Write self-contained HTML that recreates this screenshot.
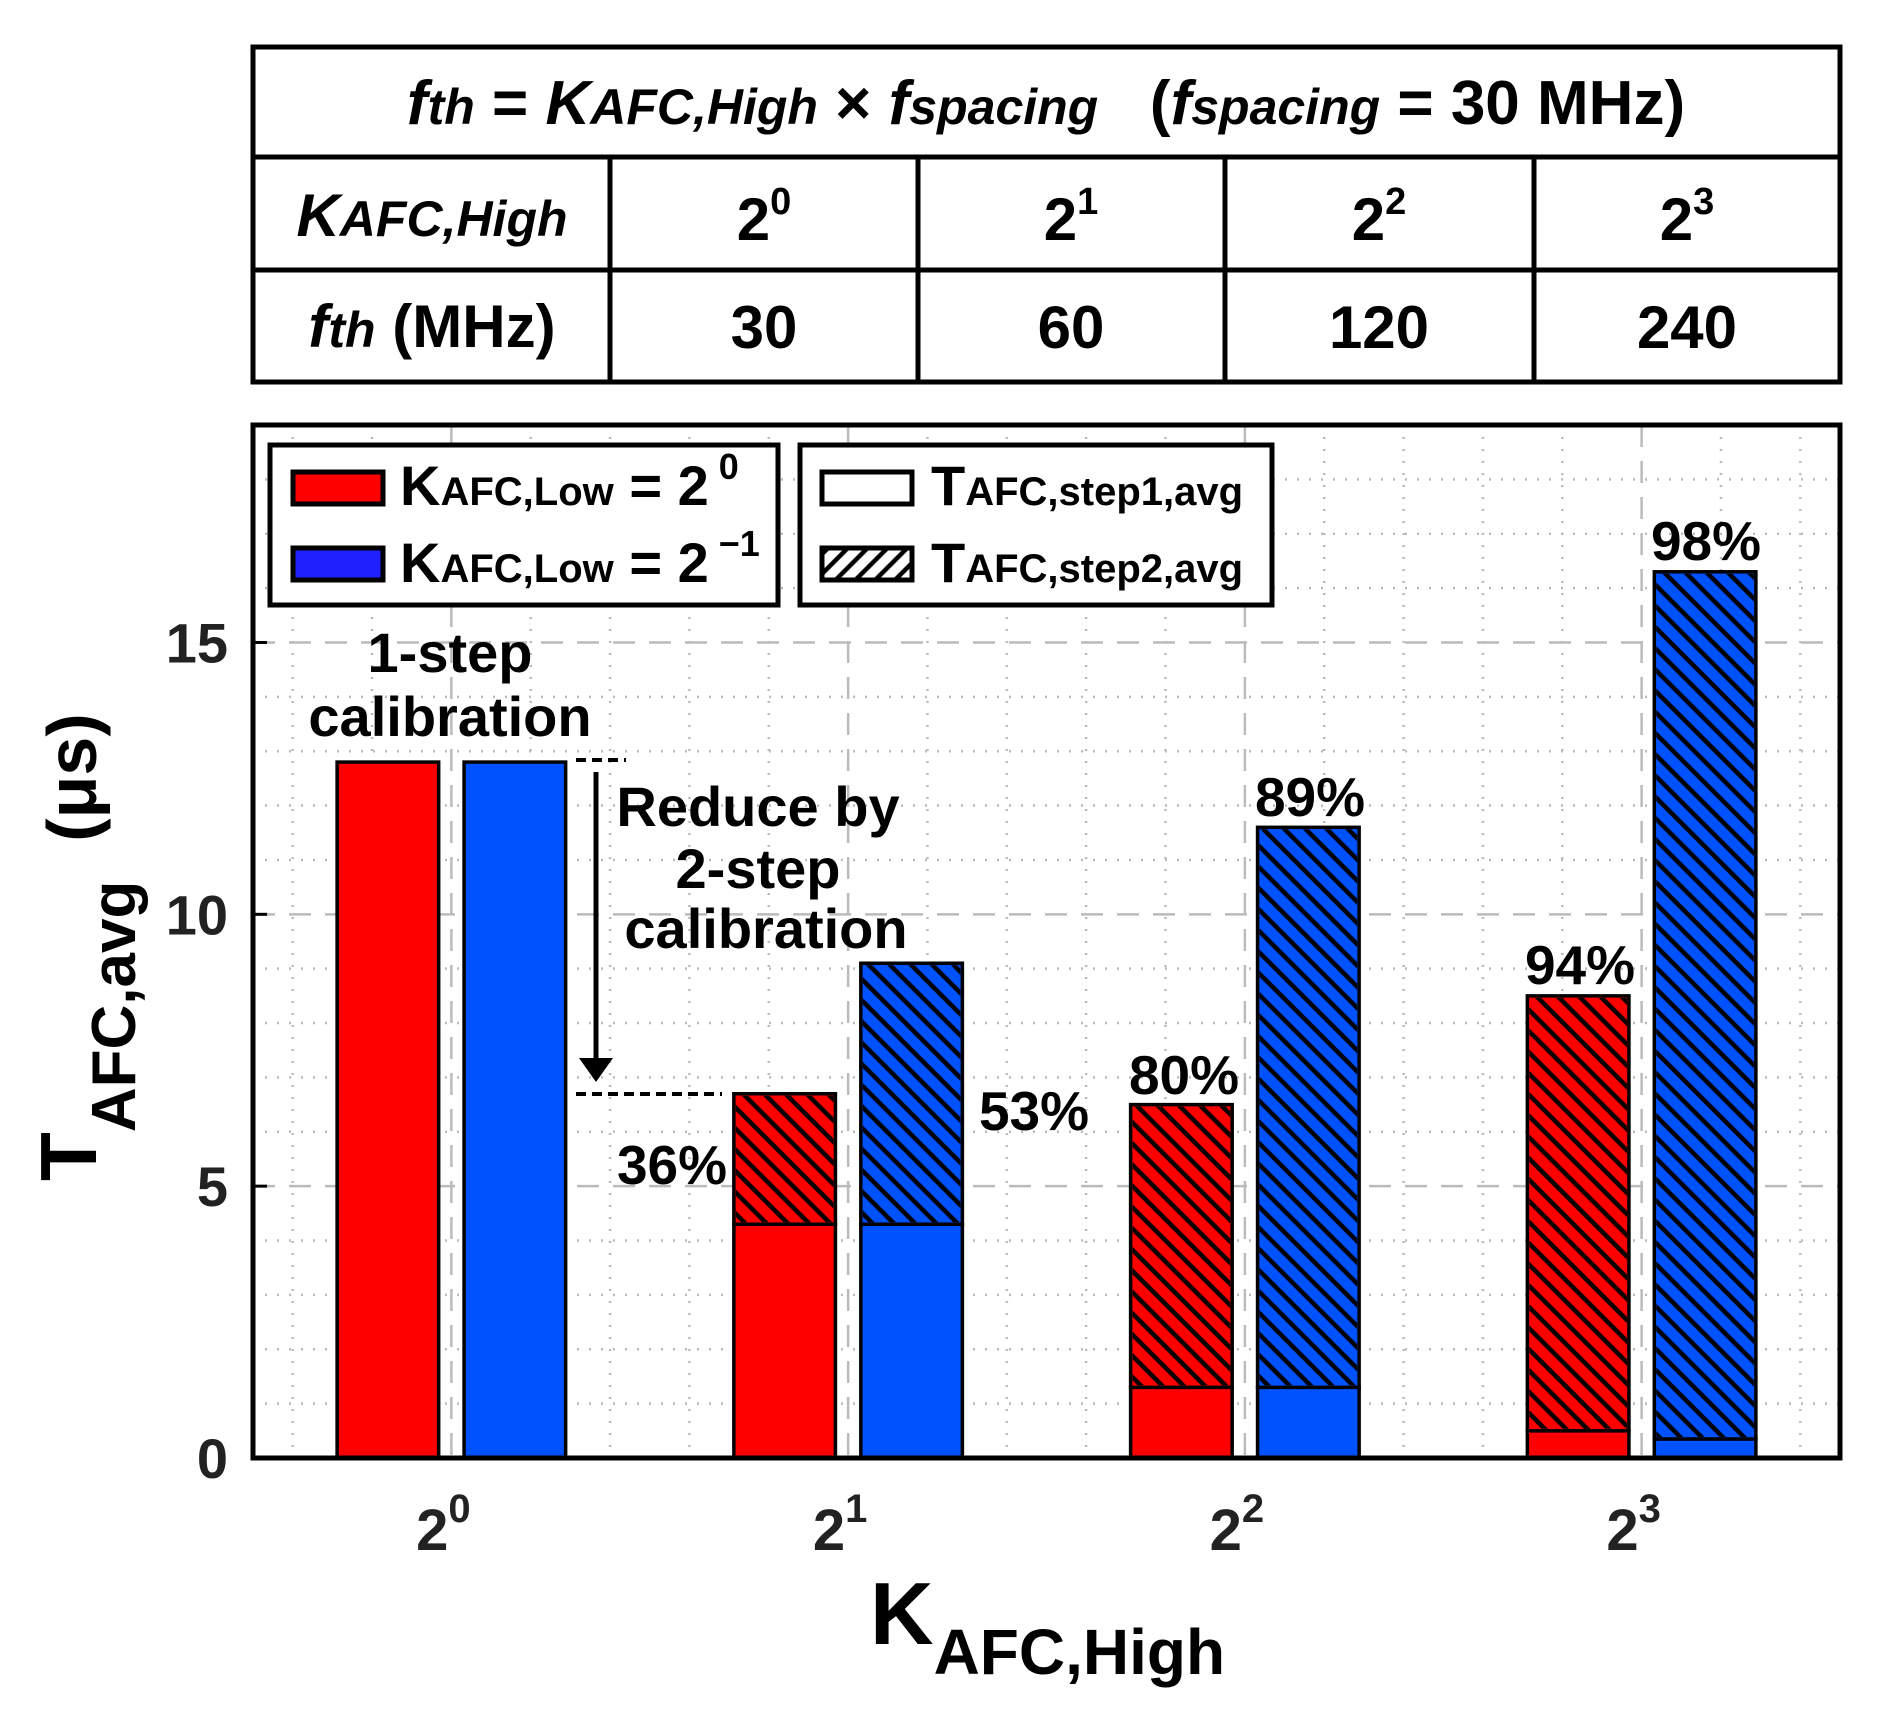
<!DOCTYPE html>
<html><head><meta charset="utf-8"><style>
html,body{margin:0;padding:0;background:#fff;}
svg{display:block;font-family:"Liberation Sans",Arial,sans-serif;font-weight:bold;}
.n{font-family:"Liberation Sans Narrow","Liberation Sans",sans-serif;}
</style></head><body>
<svg id="chart" width="1877" height="1711" viewBox="0 0 1877 1711">
<defs>
<pattern id="hatch" width="15" height="15" patternUnits="userSpaceOnUse" patternTransform="rotate(-45)">
<line x1="7" y1="0" x2="7" y2="15" stroke="#000" stroke-width="4.5"/>
</pattern>
<pattern id="hatchL" width="14" height="14" patternUnits="userSpaceOnUse" patternTransform="rotate(45)">
<line x1="7" y1="0" x2="7" y2="14" stroke="#000" stroke-width="4.5"/>
</pattern>
</defs>
<!-- Table -->
<g font-size="60" text-anchor="middle">
<rect x="253" y="47" width="1587" height="335" fill="none" stroke="#000" stroke-width="5"/>
<line x1="253" y1="157" x2="1840" y2="157" stroke="#000" stroke-width="5"/>
<line x1="253" y1="270" x2="1840" y2="270" stroke="#000" stroke-width="5"/>
<line x1="610" y1="157" x2="610" y2="382" stroke="#000" stroke-width="5"/>
<line x1="918" y1="157" x2="918" y2="382" stroke="#000" stroke-width="5"/>
<line x1="1225" y1="157" x2="1225" y2="382" stroke="#000" stroke-width="5"/>
<line x1="1534" y1="157" x2="1534" y2="382" stroke="#000" stroke-width="5"/>
<text x="1046" y="124" font-size="62" xml:space="preserve"><tspan font-style="italic">f</tspan><tspan font-style="italic" font-size="50">th</tspan> = <tspan font-style="italic">K</tspan><tspan font-style="italic" font-size="50">AFC,High</tspan> × <tspan font-style="italic">f</tspan><tspan font-style="italic" font-size="50">spacing</tspan>   (<tspan font-style="italic">f</tspan><tspan font-style="italic" font-size="50">spacing</tspan> = 30 MHz)</text>
<text x="432" y="236"><tspan font-style="italic">K</tspan><tspan font-style="italic" font-size="50">AFC,High</tspan></text>
<text x="432" y="347"><tspan font-style="italic">f</tspan><tspan font-style="italic" font-size="50">th</tspan> (MHz)</text>
<text x="764" y="240">2<tspan font-size="38" dy="-26">0</tspan></text>
<text x="1071" y="240">2<tspan font-size="38" dy="-26">1</tspan></text>
<text x="1379" y="240">2<tspan font-size="38" dy="-26">2</tspan></text>
<text x="1687" y="240">2<tspan font-size="38" dy="-26">3</tspan></text>
<text x="764" y="348">30</text>
<text x="1071" y="348">60</text>
<text x="1379" y="348">120</text>
<text x="1687" y="348">240</text>
</g>
<g id="grid"></g>
<g id="bars"></g>
<g id="ticks"></g>
<rect x="253" y="425" width="1587" height="1033" fill="none" stroke="#000" stroke-width="5"/>
<!-- Legends -->
<g>
<rect x="270" y="445" width="508" height="160" fill="#fff" stroke="#000" stroke-width="5"/>
<rect x="293" y="472" width="90" height="32" fill="#ff0000" stroke="#000" stroke-width="5"/>
<rect x="293" y="548" width="90" height="32" fill="#2020ff" stroke="#000" stroke-width="5"/>
<text class="n" x="400" y="505" font-size="56">K<tspan font-size="40">AFC,Low</tspan> = 2<tspan font-size="36" dy="-26"> 0</tspan></text>
<text class="n" x="400" y="582" font-size="56">K<tspan font-size="40">AFC,Low</tspan> = 2<tspan font-size="36" dy="-26"> −1</tspan></text>
</g>
<g>
<rect x="800" y="445" width="472" height="160" fill="#fff" stroke="#000" stroke-width="5"/>
<rect x="822" y="472" width="90" height="32" fill="#fff" stroke="#000" stroke-width="5"/>
<rect x="822" y="548" width="90" height="32" fill="url(#hatchL)" stroke="#000" stroke-width="5"/>
<text class="n" x="931" y="505" font-size="56">T<tspan font-size="40">AFC,step1,avg</tspan></text>
<text class="n" x="931" y="582" font-size="56">T<tspan font-size="40">AFC,step2,avg</tspan></text>
</g>
<!-- Annotations -->
<g font-size="56" text-anchor="middle">
<text x="450" y="672">1-step</text>
<text x="450" y="736">calibration</text>
<line x1="576" y1="760" x2="626" y2="760" stroke="#000" stroke-width="4" stroke-dasharray="10,6"/>
<line x1="596" y1="772" x2="596" y2="1060" stroke="#000" stroke-width="5"/>
<polygon points="579,1058 613,1058 596,1082" fill="#000"/>
<line x1="576" y1="1094" x2="722" y2="1094" stroke="#000" stroke-width="4" stroke-dasharray="10,6"/>
<text x="758" y="826">Reduce by</text>
<text x="758" y="888">2-step</text>
<text x="766" y="948">calibration</text>
</g>
<g id="pcts" font-size="55" text-anchor="middle">
<text x="672" y="1184">36%</text>
<text x="1034" y="1130">53%</text>
<text x="1184" y="1094">80%</text>
<text x="1310" y="816">89%</text>
<text x="1580" y="984">94%</text>
<text x="1706" y="560">98%</text>
</g>
<text x="870" y="1644" font-size="88">K<tspan font-size="64" dy="30">AFC,High</tspan></text>
<text transform="translate(96,1181) rotate(-90)" font-size="80" xml:space="preserve">T<tspan font-size="62" dy="39">AFC,avg</tspan><tspan font-size="70" dy="-39">  (μs)</tspan></text>
<script>
const categories = ["0","1","2","3"];
const redTotal = [12.8, 6.7, 6.5, 8.5];
const redStep1 = [12.8, 4.3, 1.3, 0.5];
const blueTotal = [12.8, 9.1, 11.6, 16.3];
const blueStep1 = [12.8, 4.3, 1.3, 0.35];
const yTicks = [0, 5, 10, 15];
const NS = "http://www.w3.org/2000/svg";
const X0 = 253, X1 = 1840, Y0 = 1458, Y1 = 425;
function xs(v){ return X0 + (v - 0.5) / 4 * (X1 - X0); }
function ys(v){ return Y0 - v / 19 * (Y0 - Y1); }
function mk(tag, attrs, parent){ const e = document.createElementNS(NS, tag); for (const k in attrs) e.setAttribute(k, attrs[k]); parent.appendChild(e); return e; }
const grid = document.getElementById('grid');
for (let v = 1; v < 19; v++) {
  const l = mk('line', {x1:X0, x2:X1, y1:ys(v), y2:ys(v), stroke:'#bbb', 'stroke-width':2.5, 'stroke-dasharray':(v%5===0?'22,14':'2,10')}, grid);
  
  
}
for (let k = 3; k <= 22; k++) {
  const v = k * 0.2;
  const major = (k % 5 === 0);
  const l = mk('line', {x1:xs(v), x2:xs(v), y1:Y1, y2:Y0, stroke:'#bbb', 'stroke-width':2.5, 'stroke-dasharray':(major?'22,14':'2,10')}, grid);
  
  
}
const bars = document.getElementById('bars');
const W = 0.256 * (X1 - X0) / 4;
function drawBar(cx, step1, total, color, name){
  const x = cx - W/2;
  const s = mk('rect', {x:x, y:ys(step1), width:W, height:ys(0)-ys(step1), fill:color, stroke:'#000', 'stroke-width':3.5}, bars);
  
  
  if (total > step1) {
    const h = mk('rect', {x:x, y:ys(total), width:W, height:ys(step1)-ys(total), fill:color, stroke:'#000', 'stroke-width':3.5}, bars);
    
    
    const p = mk('rect', {x:x+2, y:ys(total)+2, width:W-4, height:ys(step1)-ys(total)-4, fill:'url(#hatch)'}, bars);
    
    
  }
}
const ticks = document.getElementById('ticks');
categories.forEach((c, i) => {
  const cx = xs(i + 1);
  drawBar(cx - 0.16*(X1-X0)/4, redStep1[i], redTotal[i], '#ff0000', 'bar-red-' + i);
  drawBar(cx + 0.16*(X1-X0)/4, blueStep1[i], blueTotal[i], '#0052ff', 'bar-blue-' + i);
  const t = mk('text', {x:cx - 8, y:1550, 'font-size':58, 'text-anchor':'middle', fill:'#222'}, ticks);
  
  
  t.textContent = '2';
  const sup = mk('tspan', {'font-size':40, dy:-28}, t);
  sup.textContent = c;
});
yTicks.forEach(v => {
  const t = mk('text', {x:228, y:ys(v)+20, 'font-size':56, 'text-anchor':'end', fill:'#222'}, ticks);
  
  
  t.textContent = v;
  const tk = mk('line', {x1:X0, x2:X0+14, y1:ys(v), y2:ys(v), stroke:'#000', 'stroke-width':3}, ticks);
  
  
});
</script>
</svg>
</body></html>
